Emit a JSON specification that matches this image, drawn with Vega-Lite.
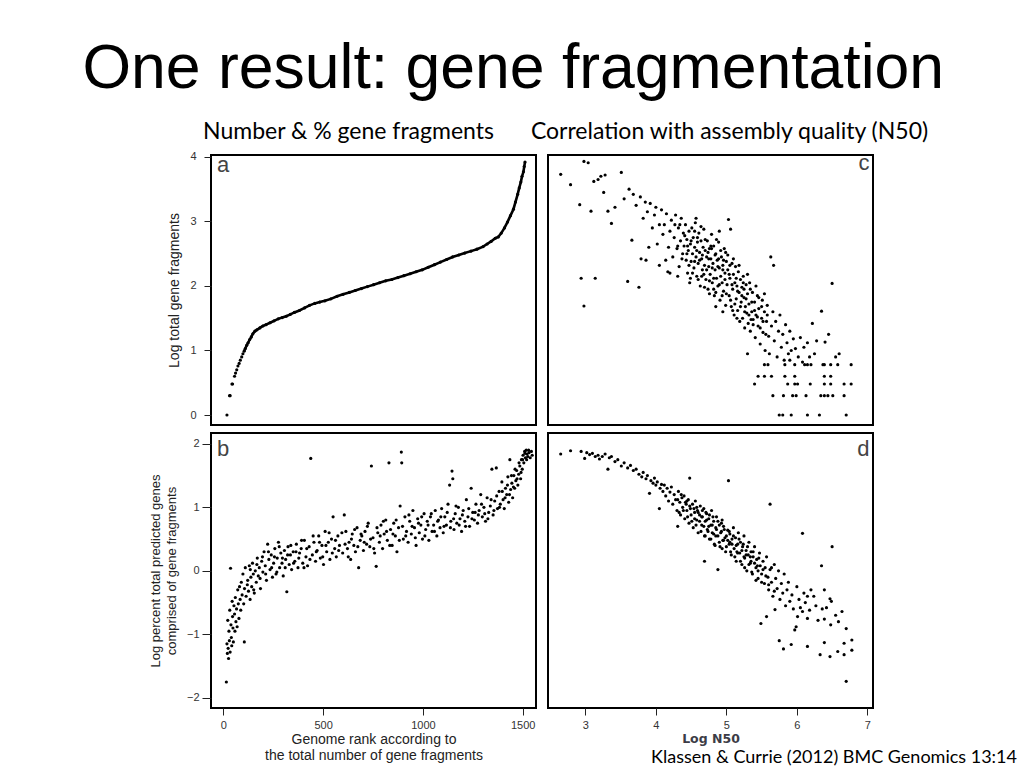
{
  "$schema": "https://vega.github.io/schema/vega-lite/v6.json",
  "background": "white",
  "padding": {"left": 82, "top": 38, "right": 0, "bottom": 0},
  "title": {"text": "One result: gene fragmentation", "font": "Liberation Sans", "fontSize": 62.5, "fontWeight": "normal", "color": "#000", "anchor": "start", "frame": "bounds", "dx": -66, "baseline": "alphabetic", "offset": -31},
  "config": {
    "view": {"stroke": "#000", "strokeWidth": 2},
    "axis": {"labelFont": "Liberation Sans", "titleFont": "Liberation Sans", "labelFontSize": 11, "labelColor": "#333", "tickColor": "#222", "grid": false, "domain": false, "titleFontWeight": "normal", "titleColor": "#222", "format": "d"}
  },
  "datasets": {
    "a": [
      {"r":18,"f":0.0},{"r":31,"f":0.3},{"r":34,"f":0.3},{"r":43,"f":0.48},{"r":46,"f":0.48},{"r":56,"f":0.6},{"r":61,"f":0.65},{"r":67,"f":0.7},{"r":73,"f":0.76},{"r":79,"f":0.8},{"r":85,"f":0.85},{"r":92,"f":0.9},{"r":98,"f":0.95},{"r":104,"f":0.99},{"r":110,"f":1.03},{"r":117,"f":1.08},{"r":124,"f":1.12},{"r":132,"f":1.17},{"r":140,"f":1.21},{"r":148,"f":1.26},{"r":158,"f":1.3},{"r":168,"f":1.32},{"r":183,"f":1.35},{"r":198,"f":1.38},{"r":214,"f":1.4},{"r":234,"f":1.43},{"r":254,"f":1.46},{"r":275,"f":1.49},{"r":295,"f":1.51},{"r":315,"f":1.53},{"r":336,"f":1.56},{"r":356,"f":1.59},{"r":381,"f":1.62},{"r":407,"f":1.66},{"r":432,"f":1.7},{"r":458,"f":1.73},{"r":483,"f":1.75},{"r":509,"f":1.77},{"r":539,"f":1.8},{"r":570,"f":1.84},{"r":600,"f":1.87},{"r":631,"f":1.9},{"r":661,"f":1.93},{"r":692,"f":1.96},{"r":722,"f":1.99},{"r":753,"f":2.02},{"r":783,"f":2.05},{"r":814,"f":2.08},{"r":844,"f":2.1},{"r":875,"f":2.13},{"r":905,"f":2.16},{"r":936,"f":2.19},{"r":966,"f":2.22},{"r":997,"f":2.25},{"r":1027,"f":2.29},{"r":1058,"f":2.33},{"r":1088,"f":2.37},{"r":1119,"f":2.41},{"r":1149,"f":2.45},{"r":1180,"f":2.48},{"r":1210,"f":2.51},{"r":1241,"f":2.54},{"r":1271,"f":2.57},{"r":1302,"f":2.61},{"r":1322,"f":2.65},{"r":1342,"f":2.69},{"r":1363,"f":2.74},{"r":1378,"f":2.76},{"r":1393,"f":2.82},{"r":1409,"f":2.9},{"r":1424,"f":2.99},{"r":1439,"f":3.09},{"r":1454,"f":3.19},{"r":1464,"f":3.3},{"r":1475,"f":3.42},{"r":1483,"f":3.52},{"r":1491,"f":3.61},{"r":1497,"f":3.7},{"r":1504,"f":3.77},{"r":1508,"f":3.85},{"r":1512,"f":3.92}
    ],
    "b": [
      {"r":15,"p":-1.75},{"r":18,"p":-1.15},{"r":20,"p":-1.3},{"r":22,"p":-0.78},{"r":24,"p":-1.22},{"r":26,"p":-1.38},{"r":28,"p":-0.95},{"r":30,"p":-1.1},{"r":32,"p":-0.62},{"r":34,"p":-1.28},{"r":36,"p":0.04},{"r":38,"p":-0.85},{"r":40,"p":-1.05},{"r":42,"p":-1.18},{"r":44,"p":-0.48},{"r":46,"p":-0.72},{"r":48,"p":-0.9},{"r":50,"p":-1.12},{"r":53,"p":-0.55},{"r":56,"p":-0.68},{"r":58,"p":-0.95},{"r":60,"p":-0.42},{"r":63,"p":-0.8},{"r":66,"p":-0.6},{"r":69,"p":-0.88},{"r":72,"p":-0.3},{"r":75,"p":-0.52},{"r":78,"p":-0.75},{"r":81,"p":-0.25},{"r":84,"p":-0.45},{"r":87,"p":-0.62},{"r":90,"p":-0.18},{"r":94,"p":-0.38},{"r":98,"p":-0.05},{"r":102,"p":-0.52},{"r":105,"p":-1.12},{"r":106,"p":-0.28},{"r":110,"p":0.05},{"r":114,"p":-0.4},{"r":122,"p":-0.15},{"r":126,"p":-0.32},{"r":130,"p":0.08},{"r":134,"p":-0.45},{"r":138,"p":-0.1},{"r":142,"p":-0.25},{"r":146,"p":0.12},{"r":150,"p":-0.05},{"r":155,"p":-0.35},{"r":160,"p":0.0},{"r":165,"p":-0.18},{"r":170,"p":0.2},{"r":175,"p":-0.08},{"r":180,"p":0.05},{"r":186,"p":-0.28},{"r":192,"p":0.15},{"r":198,"p":-0.02},{"r":204,"p":0.3},{"r":210,"p":0.08},{"r":216,"p":-0.15},{"r":222,"p":0.42},{"r":228,"p":0.18},{"r":234,"p":0.02},{"r":240,"p":0.25},{"r":246,"p":-0.1},{"r":252,"p":0.12},{"r":258,"p":0.35},{"r":264,"p":-0.05},{"r":270,"p":0.2},{"r":276,"p":0.45},{"r":282,"p":0.05},{"r":288,"p":0.28},{"r":294,"p":0.12},{"r":300,"p":-0.08},{"r":306,"p":0.32},{"r":312,"p":0.18},{"r":318,"p":-0.33},{"r":324,"p":0.38},{"r":330,"p":0.1},{"r":336,"p":0.25},{"r":342,"p":0.02},{"r":350,"p":0.3},{"r":358,"p":0.15},{"r":366,"p":0.42},{"r":374,"p":0.05},{"r":382,"p":0.28},{"r":390,"p":0.35},{"r":398,"p":0.12},{"r":406,"p":0.48},{"r":414,"p":0.22},{"r":422,"p":0.08},{"r":430,"p":0.38},{"r":438,"p":1.77},{"r":446,"p":0.25},{"r":454,"p":0.45},{"r":462,"p":0.15},{"r":470,"p":0.32},{"r":478,"p":0.55},{"r":486,"p":0.2},{"r":494,"p":0.4},{"r":502,"p":0.1},{"r":510,"p":0.62},{"r":518,"p":0.3},{"r":526,"p":0.45},{"r":534,"p":0.18},{"r":542,"p":0.5},{"r":550,"p":0.85},{"r":558,"p":0.35},{"r":566,"p":0.22},{"r":574,"p":0.55},{"r":582,"p":0.4},{"r":598,"p":0.28},{"r":606,"p":0.88},{"r":614,"p":0.62},{"r":622,"p":0.35},{"r":630,"p":0.45},{"r":638,"p":0.18},{"r":646,"p":0.58},{"r":654,"p":0.4},{"r":662,"p":0.3},{"r":670,"p":0.68},{"r":678,"p":0.05},{"r":686,"p":0.48},{"r":694,"p":0.55},{"r":702,"p":0.32},{"r":710,"p":0.62},{"r":718,"p":0.42},{"r":726,"p":0.75},{"r":734,"p":0.38},{"r":742,"p":1.65},{"r":750,"p":0.52},{"r":758,"p":0.28},{"r":766,"p":0.07},{"r":774,"p":0.6},{"r":782,"p":0.45},{"r":790,"p":0.72},{"r":798,"p":0.35},{"r":806,"p":0.58},{"r":814,"p":0.8},{"r":822,"p":0.48},{"r":830,"p":1.7},{"r":838,"p":0.65},{"r":846,"p":0.4},{"r":854,"p":0.75},{"r":862,"p":0.55},{"r":870,"p":0.3},{"r":878,"p":0.68},{"r":886,"p":1.02},{"r":892,"p":1.87},{"r":894,"p":1.7},{"r":902,"p":0.5},{"r":910,"p":0.85},{"r":918,"p":0.62},{"r":926,"p":0.45},{"r":934,"p":0.78},{"r":942,"p":0.58},{"r":950,"p":0.95},{"r":958,"p":0.68},{"r":966,"p":0.4},{"r":974,"p":0.82},{"r":982,"p":0.6},{"r":990,"p":0.72},{"r":998,"p":0.5},{"r":1006,"p":0.9},{"r":1014,"p":0.65},{"r":1022,"p":0.78},{"r":1030,"p":0.48},{"r":1038,"p":0.85},{"r":1046,"p":0.62},{"r":1054,"p":0.72},{"r":1062,"p":0.95},{"r":1070,"p":0.55},{"r":1078,"p":0.8},{"r":1086,"p":0.68},{"r":1094,"p":0.98},{"r":1102,"p":0.6},{"r":1110,"p":0.85},{"r":1118,"p":0.72},{"r":1126,"p":1.05},{"r":1134,"p":1.35},{"r":1140,"p":0.78},{"r":1146,"p":1.57},{"r":1150,"p":1.45},{"r":1156,"p":0.65},{"r":1162,"p":0.9},{"r":1170,"p":0.75},{"r":1178,"p":1.0},{"r":1186,"p":0.82},{"r":1194,"p":0.62},{"r":1202,"p":0.95},{"r":1210,"p":0.78},{"r":1218,"p":1.12},{"r":1226,"p":0.85},{"r":1234,"p":0.7},{"r":1242,"p":1.3},{"r":1250,"p":0.92},{"r":1258,"p":0.8},{"r":1266,"p":1.05},{"r":1274,"p":0.75},{"r":1282,"p":0.95},{"r":1290,"p":1.2},{"r":1298,"p":0.85},{"r":1306,"p":1.0},{"r":1314,"p":0.78},{"r":1322,"p":1.15},{"r":1330,"p":0.92},{"r":1338,"p":1.02},{"r":1346,"p":1.6},{"r":1352,"p":0.88},{"r":1360,"p":1.1},{"r":1368,"p":1.62},{"r":1374,"p":0.98},{"r":1382,"p":1.25},{"r":1388,"p":1.05},{"r":1396,"p":1.4},{"r":1402,"p":1.12},{"r":1408,"p":0.98},{"r":1414,"p":1.3},{"r":1420,"p":1.2},{"r":1426,"p":1.48},{"r":1430,"p":1.08},{"r":1436,"p":1.75},{"r":1440,"p":1.28},{"r":1446,"p":1.38},{"r":1450,"p":1.15},{"r":1456,"p":1.5},{"r":1460,"p":1.3},{"r":1466,"p":1.42},{"r":1470,"p":1.58},{"r":1476,"p":1.35},{"r":1480,"p":1.52},{"r":1486,"p":1.65},{"r":1490,"p":1.45},{"r":1494,"p":1.75},{"r":1498,"p":1.6},{"r":1502,"p":1.82},{"r":1506,"p":1.7},{"r":1510,"p":1.88},{"r":1514,"p":1.78},{"r":1518,"p":1.9},{"r":1522,"p":1.84},{"r":1526,"p":1.8},{"r":1532,"p":1.86},{"r":1538,"p":1.78},{"r":1544,"p":1.88},{"r":1548,"p":1.82},
      {"r":120,"p":-0.22},{"r":135,"p":0.02},{"r":152,"p":-0.3},{"r":168,"p":0.1},{"r":184,"p":-0.12},{"r":196,"p":0.22},{"r":212,"p":-0.05},{"r":226,"p":0.3},{"r":242,"p":0.05},{"r":256,"p":0.22},{"r":268,"p":-0.02},{"r":280,"p":0.38},{"r":296,"p":0.2},{"r":310,"p":0.05},{"r":322,"p":0.25},{"r":338,"p":0.4},{"r":352,"p":0.12},{"r":364,"p":0.3},{"r":378,"p":0.2},{"r":392,"p":0.48},{"r":404,"p":0.05},{"r":418,"p":0.35},{"r":434,"p":0.18},{"r":450,"p":0.55},{"r":466,"p":0.3},{"r":482,"p":0.45},{"r":498,"p":0.22},{"r":514,"p":0.4},{"r":530,"p":0.6},{"r":546,"p":0.28},{"r":562,"p":0.48},{"r":578,"p":0.32},{"r":594,"p":0.6},{"r":610,"p":0.42},{"r":626,"p":0.22},{"r":642,"p":0.5},{"r":658,"p":0.65},{"r":674,"p":0.38},{"r":690,"p":0.58},{"r":706,"p":0.45},{"r":722,"p":0.7},{"r":738,"p":0.5},{"r":754,"p":0.35},{"r":770,"p":0.68},{"r":786,"p":0.55},{"r":802,"p":0.78},{"r":818,"p":0.62},{"r":834,"p":0.4},{"r":850,"p":0.58},{"r":866,"p":0.8},{"r":882,"p":0.48},{"r":898,"p":0.7},{"r":914,"p":0.55},{"r":930,"p":0.88},{"r":946,"p":0.7},{"r":962,"p":0.52},{"r":978,"p":0.75},{"r":994,"p":0.85},{"r":1010,"p":0.55},{"r":1026,"p":0.72},{"r":1042,"p":0.9},{"r":1058,"p":0.62},{"r":1074,"p":0.78},{"r":1090,"p":0.85},{"r":1106,"p":0.7},{"r":1122,"p":0.92},{"r":1138,"p":0.68},{"r":1154,"p":0.82},{"r":1166,"p":1.02},{"r":1182,"p":0.72},{"r":1198,"p":0.88},{"r":1214,"p":0.7},{"r":1230,"p":0.98},{"r":1246,"p":0.82},{"r":1262,"p":0.92},{"r":1278,"p":0.88},{"r":1294,"p":1.05},{"r":1310,"p":0.9},{"r":1326,"p":0.82},{"r":1342,"p":1.12},{"r":1356,"p":0.95},{"r":1370,"p":1.18},{"r":1384,"p":1.0},{"r":1398,"p":1.25},{"r":1412,"p":1.15},{"r":1424,"p":1.35},{"r":1434,"p":1.2},{"r":1444,"p":1.5},{"r":1454,"p":1.32},{"r":1462,"p":1.6},{"r":1472,"p":1.45},{"r":1482,"p":1.7},{"r":1492,"p":1.55},{"r":1500,"p":1.75},{"r":1512,"p":1.85},{"r":1520,"p":1.75},{"r":1530,"p":1.9}
    ],
    "c": [
      {"n":2.65,"f":3.73},{"n":2.79,"f":3.57},{"n":2.92,"f":3.26},{"n":2.94,"f":2.12},{"n":2.98,"f":1.69},{"n":2.98,"f":3.93},{"n":3.04,"f":3.91},{"n":3.08,"f":3.16},{"n":3.14,"f":2.12},{"n":3.12,"f":3.62},{"n":3.18,"f":3.65},{"n":3.22,"f":3.7},{"n":3.28,"f":3.72},{"n":3.32,"f":3.16},{"n":3.26,"f":3.45},{"n":3.37,"f":2.97},{"n":3.42,"f":3.22},{"n":3.51,"f":3.76},{"n":3.55,"f":3.35},{"n":3.6,"f":2.07},{"n":3.62,"f":3.5},{"n":3.66,"f":2.71},{"n":3.68,"f":3.42},{"n":3.72,"f":3.25},{"n":3.76,"f":1.98},{"n":3.78,"f":3.38},{"n":3.79,"f":2.42},{"n":3.82,"f":3.05},{"n":3.85,"f":3.3},{"n":3.86,"f":2.4},{"n":3.88,"f":3.15},{"n":3.9,"f":2.6},{"n":3.92,"f":3.28},{"n":3.95,"f":2.9},{"n":3.98,"f":3.1},{"n":4.0,"f":3.22},{"n":4.02,"f":2.65},{"n":4.05,"f":2.32},{"n":4.05,"f":2.95},{"n":4.08,"f":3.18},{"n":4.1,"f":2.8},{"n":4.17,"f":2.22},
      {"n":4.12,"f":2.95},{"n":4.15,"f":3.12},{"n":4.18,"f":2.6},{"n":4.2,"f":2.85},{"n":4.22,"f":3.02},{"n":4.24,"f":2.45},{"n":4.26,"f":2.75},{"n":4.28,"f":3.1},{"n":4.3,"f":2.58},{"n":4.32,"f":2.9},{"n":4.33,"f":2.3},{"n":4.35,"f":2.7},{"n":4.36,"f":3.05},{"n":4.38,"f":2.5},{"n":4.39,"f":2.82},{"n":4.4,"f":2.62},{"n":4.2,"f":2.2},{"n":4.31,"f":2.15},{"n":4.14,"f":2.4},{"n":4.27,"f":2.95},
      {"n":4.42,"f":2.95},{"n":4.43,"f":2.4},{"n":4.44,"f":2.72},{"n":4.45,"f":2.2},{"n":4.46,"f":2.55},{"n":4.47,"f":2.85},{"n":4.48,"f":2.05},{"n":4.49,"f":2.65},{"n":4.5,"f":2.38},{"n":4.51,"f":2.9},{"n":4.52,"f":2.5},{"n":4.53,"f":2.75},{"n":4.54,"f":2.28},{"n":4.55,"f":2.6},{"n":4.56,"f":2.98},{"n":4.57,"f":2.45},{"n":4.58,"f":2.15},{"n":4.59,"f":2.68},{"n":4.6,"f":2.35},{"n":4.61,"f":2.82},{"n":4.62,"f":2.52},{"n":4.63,"f":2.0},{"n":4.64,"f":2.7},{"n":4.65,"f":2.42},{"n":4.66,"f":2.25},{"n":4.67,"f":2.6},{"n":4.68,"f":2.88},{"n":4.69,"f":2.32},{"n":4.7,"f":2.55},{"n":4.57,"f":3.05},
      {"n":4.71,"f":2.1},{"n":4.72,"f":2.45},{"n":4.73,"f":2.7},{"n":4.74,"f":1.95},{"n":4.75,"f":2.3},{"n":4.76,"f":2.58},{"n":4.77,"f":2.18},{"n":4.78,"f":2.42},{"n":4.79,"f":2.8},{"n":4.8,"f":2.05},{"n":4.81,"f":2.35},{"n":4.82,"f":2.62},{"n":4.83,"f":1.85},{"n":4.84,"f":2.25},{"n":4.85,"f":2.5},{"n":4.86,"f":2.12},{"n":4.87,"f":2.4},{"n":4.88,"f":2.0},{"n":4.89,"f":2.68},{"n":4.9,"f":2.28},{"n":4.91,"f":1.78},{"n":4.92,"f":2.15},{"n":4.93,"f":2.45},{"n":4.94,"f":2.05},{"n":4.95,"f":2.32},{"n":4.96,"f":1.92},{"n":4.97,"f":2.58},{"n":4.98,"f":2.2},{"n":4.99,"f":1.7},{"n":5.0,"f":2.38},{"n":4.76,"f":1.88},{"n":4.85,"f":1.68},{"n":4.9,"f":2.85},{"n":4.82,"f":2.12},{"n":4.95,"f":1.6},
      {"n":5.01,"f":2.02},{"n":5.02,"f":2.25},{"n":5.03,"f":3.03},{"n":5.04,"f":1.85},{"n":5.05,"f":2.12},{"n":5.06,"f":2.88},{"n":5.07,"f":1.68},{"n":5.08,"f":2.35},{"n":5.09,"f":1.95},{"n":5.1,"f":2.18},{"n":5.11,"f":1.55},{"n":5.12,"f":2.05},{"n":5.13,"f":2.3},{"n":5.14,"f":1.8},{"n":5.15,"f":2.0},{"n":5.16,"f":1.62},{"n":5.17,"f":2.22},{"n":5.18,"f":1.9},{"n":5.19,"f":1.45},{"n":5.2,"f":2.1},{"n":5.21,"f":1.75},{"n":5.22,"f":1.98},{"n":5.23,"f":1.5},{"n":5.24,"f":2.15},{"n":5.25,"f":1.82},{"n":5.26,"f":1.35},{"n":5.27,"f":1.68},{"n":5.28,"f":2.02},{"n":5.29,"f":1.58},{"n":5.3,"f":1.88},
      {"n":5.31,"f":1.42},{"n":5.32,"f":1.72},{"n":5.33,"f":2.05},{"n":5.34,"f":1.3},{"n":5.36,"f":1.6},{"n":5.37,"f":1.9},{"n":5.38,"f":1.48},{"n":5.4,"f":1.75},{"n":5.41,"f":1.2},{"n":5.42,"f":1.55},{"n":5.44,"f":1.85},{"n":5.45,"f":1.38},{"n":5.46,"f":1.65},{"n":5.48,"f":1.1},{"n":5.5,"f":1.5},{"n":5.51,"f":1.78},{"n":5.52,"f":1.28},{"n":5.54,"f":1.6},{"n":5.55,"f":1.0},{"n":5.57,"f":1.45},{"n":5.58,"f":1.7},{"n":5.6,"f":1.22},
      {"n":5.61,"f":0.95},{"n":5.63,"f":2.45},{"n":5.64,"f":1.38},{"n":5.66,"f":1.6},{"n":5.67,"f":2.32},{"n":5.68,"f":1.15},{"n":5.7,"f":1.45},{"n":5.72,"f":0.9},{"n":5.74,"f":1.3},{"n":5.76,"f":1.55},{"n":5.78,"f":1.05},{"n":5.8,"f":1.25},{"n":5.82,"f":0.85},{"n":5.84,"f":1.4},{"n":5.86,"f":1.12},{"n":5.88,"f":0.95},{"n":5.9,"f":1.3},{"n":5.92,"f":1.0},{"n":5.95,"f":1.18},{"n":5.98,"f":1.03},
      {"n":6.02,"f":0.9},{"n":6.05,"f":1.2},{"n":6.08,"f":0.82},{"n":6.1,"f":1.05},{"n":6.15,"f":1.12},{"n":6.18,"f":0.9},{"n":6.22,"f":1.42},{"n":6.28,"f":1.15},{"n":6.35,"f":1.61},{"n":6.4,"f":1.13},{"n":6.45,"f":1.25},{"n":6.5,"f":2.04},{"n":6.6,"f":0.95},
      {"n":5.75,"f":0.0},{"n":5.8,"f":0.0},{"n":5.92,"f":0.0},{"n":6.15,"f":0.0},{"n":6.32,"f":0.0},{"n":6.7,"f":0.0},
      {"n":5.66,"f":0.3},{"n":5.81,"f":0.3},{"n":5.94,"f":0.3},{"n":5.99,"f":0.3},{"n":6.13,"f":0.3},{"n":6.34,"f":0.3},{"n":6.39,"f":0.3},{"n":6.44,"f":0.3},{"n":6.51,"f":0.3},{"n":6.67,"f":0.3},
      {"n":5.4,"f":0.48},{"n":5.87,"f":0.48},{"n":5.97,"f":0.48},{"n":6.01,"f":0.48},{"n":6.19,"f":0.48},{"n":6.39,"f":0.48},{"n":6.48,"f":0.48},{"n":6.67,"f":0.48},{"n":6.77,"f":0.48},
      {"n":5.45,"f":0.6},{"n":5.54,"f":0.6},{"n":5.64,"f":0.6},{"n":5.83,"f":0.6},{"n":5.97,"f":0.6},{"n":6.39,"f":0.6},{"n":6.48,"f":0.6},
      {"n":5.54,"f":0.78},{"n":5.59,"f":0.78},{"n":5.83,"f":0.78},{"n":5.97,"f":0.78},{"n":6.11,"f":0.78},{"n":6.15,"f":0.78},{"n":6.2,"f":0.78},{"n":6.37,"f":0.78},{"n":6.39,"f":0.78},{"n":6.48,"f":0.78},{"n":6.58,"f":0.78},{"n":6.77,"f":0.78},
      {"n":5.3,"f":0.95},{"n":6.25,"f":0.95},{"n":6.55,"f":0.9},{"n":5.9,"f":0.85},
      {"n":4.31,"f":2.62},{"n":4.34,"f":2.95},{"n":4.37,"f":2.42},{"n":4.41,"f":2.78},{"n":4.44,"f":2.5},{"n":4.47,"f":2.32},{"n":4.5,"f":2.7},{"n":4.52,"f":2.2},{"n":4.55,"f":2.85},{"n":4.58,"f":2.55},{"n":4.6,"f":2.1},{"n":4.62,"f":2.4},{"n":4.64,"f":2.92},{"n":4.66,"f":2.48},{"n":4.68,"f":2.18},{"n":4.7,"f":2.72},{"n":4.72,"f":2.25},{"n":4.74,"f":2.52},{"n":4.76,"f":2.08},{"n":4.78,"f":2.62},{"n":4.8,"f":2.28},{"n":4.82,"f":1.95},{"n":4.84,"f":2.48},{"n":4.86,"f":2.72},{"n":4.88,"f":2.3},{"n":4.9,"f":2.02},{"n":4.92,"f":2.55},{"n":4.94,"f":1.85},{"n":4.96,"f":2.4},{"n":4.98,"f":2.1},{"n":5.0,"f":1.88},{"n":5.02,"f":2.48},{"n":5.04,"f":2.18},{"n":5.06,"f":1.78},{"n":5.08,"f":2.02},{"n":5.1,"f":2.42},{"n":5.12,"f":1.72},{"n":5.14,"f":2.12},{"n":5.16,"f":1.92},{"n":5.18,"f":2.32},{"n":5.2,"f":1.68},{"n":5.22,"f":1.85},{"n":5.24,"f":2.05},{"n":5.26,"f":1.6},{"n":5.28,"f":1.8},{"n":5.3,"f":2.18},{"n":5.32,"f":1.55},{"n":5.34,"f":1.95},{"n":5.36,"f":1.75},{"n":5.38,"f":1.4},{"n":5.4,"f":1.62},{"n":5.42,"f":2.0},{"n":5.44,"f":1.52},{"n":5.46,"f":1.82},{"n":5.48,"f":1.35},{"n":5.5,"f":1.68},{"n":5.52,"f":1.45},{"n":5.54,"f":1.88},{"n":5.56,"f":1.25},{"n":5.58,"f":1.55},{"n":4.45,"f":2.62},{"n":4.55,"f":2.38},{"n":4.65,"f":2.15},{"n":4.75,"f":2.42},{"n":4.85,"f":1.9},{"n":4.95,"f":2.25},{"n":5.05,"f":2.32},{"n":5.15,"f":1.5},{"n":5.25,"f":1.95},{"n":5.35,"f":1.48},{"n":4.79,"f":2.58},{"n":4.89,"f":2.42},{"n":4.99,"f":2.52},{"n":5.09,"f":1.62},{"n":4.69,"f":1.98},{"n":4.59,"f":2.75},{"n":4.49,"f":2.12}
    ],
    "d": [
      {"n":2.65,"p":1.84},{"n":2.79,"p":1.89},{"n":2.94,"p":1.88},{"n":2.99,"p":1.77},{"n":3.02,"p":1.86},{"n":3.06,"p":1.83},{"n":3.1,"p":1.85},{"n":3.14,"p":1.8},{"n":3.18,"p":1.82},{"n":3.2,"p":1.76},{"n":3.24,"p":1.8},{"n":3.28,"p":1.84},{"n":3.32,"p":1.6},{"n":3.34,"p":1.78},{"n":3.37,"p":1.8},{"n":3.42,"p":1.72},{"n":3.46,"p":1.75},{"n":3.51,"p":1.65},{"n":3.55,"p":1.7},{"n":3.6,"p":1.62},{"n":3.64,"p":1.66},{"n":3.68,"p":1.58},{"n":3.72,"p":1.6},{"n":3.76,"p":1.52},{"n":3.8,"p":1.48},{"n":3.82,"p":1.55},{"n":3.86,"p":1.45},{"n":3.88,"p":1.5},{"n":3.91,"p":1.22},{"n":3.93,"p":1.42},{"n":3.96,"p":1.38},{"n":3.98,"p":1.46},{"n":4.0,"p":1.35},{"n":4.02,"p":1.4},{"n":4.05,"p":0.98},{"n":4.06,"p":1.3},{"n":4.08,"p":1.36},{"n":4.1,"p":1.25},{"n":4.12,"p":1.35},{"n":4.14,"p":1.18},{"n":4.16,"p":1.3},{"n":4.18,"p":1.1},{"n":4.2,"p":1.24},
      {"n":4.22,"p":1.32},{"n":4.24,"p":1.05},{"n":4.26,"p":1.2},{"n":4.28,"p":1.12},{"n":4.3,"p":0.95},{"n":4.31,"p":0.7},{"n":4.32,"p":1.25},{"n":4.34,"p":1.08},{"n":4.35,"p":0.88},{"n":4.37,"p":1.15},{"n":4.38,"p":1.0},{"n":4.4,"p":1.18},{"n":4.41,"p":0.82},{"n":4.43,"p":1.05},{"n":4.44,"p":0.95},{"n":4.46,"p":1.12},{"n":4.47,"p":0.75},{"n":4.48,"p":1.46},{"n":4.49,"p":0.98},{"n":4.5,"p":0.88},{"n":4.52,"p":1.05},{"n":4.53,"p":0.68},{"n":4.55,"p":0.92},{"n":4.56,"p":1.1},{"n":4.58,"p":0.8},{"n":4.59,"p":0.95},{"n":4.6,"p":0.6},{"n":4.62,"p":0.88},{"n":4.63,"p":1.02},{"n":4.65,"p":0.72},{"n":4.66,"p":0.85},{"n":4.68,"p":0.98},{"n":4.69,"p":0.55},{"n":4.69,"p":0.15},{"n":4.7,"p":0.78},{"n":4.72,"p":0.9},{"n":4.73,"p":0.65},{"n":4.75,"p":0.82},{"n":4.76,"p":0.5},{"n":4.78,"p":0.72},{"n":4.79,"p":0.95},{"n":4.8,"p":0.6},{"n":4.82,"p":0.78},{"n":4.83,"p":0.42},{"n":4.85,"p":0.68},{"n":4.86,"p":0.85},{"n":4.88,"p":0.02},{"n":4.88,"p":0.55},{"n":4.9,"p":0.72},{"n":4.91,"p":0.38},{"n":4.93,"p":0.62},{"n":4.94,"p":0.8},{"n":4.96,"p":0.48},{"n":4.97,"p":0.65},{"n":4.99,"p":0.3},{"n":5.0,"p":0.55},{"n":5.02,"p":0.64},{"n":5.03,"p":1.42},{"n":5.04,"p":0.42},{"n":5.05,"p":0.58},{"n":5.07,"p":0.25},{"n":5.08,"p":0.5},{"n":5.1,"p":0.68},{"n":5.11,"p":0.35},{"n":5.13,"p":0.52},{"n":5.14,"p":0.15},{"n":5.16,"p":0.42},{"n":5.17,"p":0.6},{"n":5.19,"p":0.28},{"n":5.2,"p":0.45},{"n":5.22,"p":0.1},{"n":5.23,"p":0.38},{"n":5.25,"p":0.55},{"n":5.26,"p":0.2},{"n":5.28,"p":0.32},{"n":5.29,"p":0.0},{"n":5.31,"p":0.25},{"n":5.32,"p":0.45},{"n":5.34,"p":0.12},{"n":5.35,"p":0.3},{"n":5.37,"p":-0.05},{"n":5.38,"p":0.22},{"n":5.4,"p":0.38},{"n":5.42,"p":0.05},{"n":5.43,"p":0.18},{"n":5.45,"p":-0.12},{"n":5.47,"p":0.28},{"n":5.48,"p":0.08},{"n":5.49,"p":-0.83},{"n":5.5,"p":-0.05},{"n":5.52,"p":0.15},{"n":5.54,"p":-0.2},{"n":5.55,"p":0.05},{"n":5.57,"p":-0.72},{"n":5.57,"p":0.22},{"n":5.59,"p":-0.1},{"n":5.6,"p":-0.3},{"n":5.62,"p":1.05},{"n":5.62,"p":0.02},{"n":5.64,"p":-0.18},{"n":5.66,"p":-0.4},{"n":5.68,"p":0.1},{"n":5.69,"p":-0.61},{"n":5.7,"p":-0.12},{"n":5.72,"p":-0.28},{"n":5.74,"p":0.0},{"n":5.75,"p":-1.1},{"n":5.76,"p":-0.45},{"n":5.78,"p":-0.2},{"n":5.8,"p":-0.35},{"n":5.81,"p":-1.23},{"n":5.82,"p":-0.05},{"n":5.84,"p":-0.55},{"n":5.86,"p":-0.3},{"n":5.88,"p":-0.18},{"n":5.9,"p":-0.48},{"n":5.92,"p":-1.16},{"n":5.93,"p":-0.38},{"n":5.95,"p":-0.6},{"n":5.97,"p":-0.93},{"n":5.99,"p":-0.88},{"n":6.0,"p":-0.25},{"n":6.01,"p":-0.72},{"n":6.03,"p":-0.45},{"n":6.05,"p":-0.58},{"n":6.08,"p":0.59},{"n":6.08,"p":-0.64},{"n":6.1,"p":-0.35},{"n":6.12,"p":-0.5},{"n":6.15,"p":-0.4},{"n":6.15,"p":-0.75},{"n":6.15,"p":-1.19},{"n":6.18,"p":-0.62},{"n":6.2,"p":-0.3},{"n":6.24,"p":-0.4},{"n":6.27,"p":-0.55},{"n":6.3,"p":-0.78},{"n":6.33,"p":-1.32},{"n":6.35,"p":0.08},{"n":6.36,"p":-0.6},{"n":6.39,"p":-0.3},{"n":6.39,"p":-0.76},{"n":6.39,"p":-1.13},{"n":6.42,"p":-0.58},{"n":6.47,"p":-0.44},{"n":6.47,"p":-1.35},{"n":6.48,"p":-0.85},{"n":6.49,"p":-0.48},{"n":6.5,"p":0.38},{"n":6.55,"p":-0.7},{"n":6.58,"p":-1.27},{"n":6.59,"p":-0.8},{"n":6.64,"p":-0.64},{"n":6.67,"p":-1.14},{"n":6.67,"p":-1.32},{"n":6.7,"p":-0.91},{"n":6.7,"p":-1.74},{"n":6.78,"p":-1.09},{"n":6.78,"p":-1.25},
      {"n":4.31,"p":1.12},{"n":4.33,"p":0.92},{"n":4.36,"p":1.2},{"n":4.39,"p":0.95},{"n":4.42,"p":1.08},{"n":4.45,"p":0.85},{"n":4.48,"p":1.02},{"n":4.51,"p":0.78},{"n":4.54,"p":0.98},{"n":4.57,"p":0.72},{"n":4.6,"p":0.92},{"n":4.62,"p":0.78},{"n":4.64,"p":0.62},{"n":4.66,"p":0.95},{"n":4.68,"p":0.7},{"n":4.7,"p":0.55},{"n":4.72,"p":0.8},{"n":4.74,"p":0.62},{"n":4.76,"p":0.88},{"n":4.78,"p":0.5},{"n":4.8,"p":0.72},{"n":4.82,"p":0.58},{"n":4.84,"p":0.4},{"n":4.86,"p":0.65},{"n":4.88,"p":0.78},{"n":4.9,"p":0.45},{"n":4.92,"p":0.6},{"n":4.94,"p":0.35},{"n":4.96,"p":0.7},{"n":4.98,"p":0.52},{"n":5.0,"p":0.38},{"n":5.02,"p":0.48},{"n":5.04,"p":0.62},{"n":5.06,"p":0.3},{"n":5.08,"p":0.42},{"n":5.1,"p":0.55},{"n":5.12,"p":0.22},{"n":5.14,"p":0.4},{"n":5.16,"p":0.28},{"n":5.18,"p":0.5},{"n":5.2,"p":0.15},{"n":5.22,"p":0.32},{"n":5.24,"p":0.42},{"n":5.26,"p":0.05},{"n":5.28,"p":0.25},{"n":5.3,"p":0.38},{"n":5.32,"p":0.1},{"n":5.34,"p":0.22},{"n":5.36,"p":-0.02},{"n":5.38,"p":0.3},{"n":5.4,"p":0.12},{"n":5.42,"p":-0.15},{"n":5.44,"p":0.08},{"n":5.46,"p":0.2},{"n":5.5,"p":-0.18},{"n":5.52,"p":0.02},{"n":5.56,"p":-0.08},{"n":5.6,"p":-0.22},{"n":5.64,"p":0.05},{"n":5.68,"p":-0.32},{"n":4.55,"p":0.82},{"n":4.65,"p":0.85},{"n":4.75,"p":0.7},{"n":4.85,"p":0.55},{"n":4.95,"p":0.48},{"n":5.05,"p":0.45},{"n":5.15,"p":0.3},{"n":5.25,"p":0.22},{"n":5.35,"p":0.15},{"n":5.45,"p":0.0},{"n":4.44,"p":1.1},{"n":4.58,"p":1.0},{"n":4.71,"p":0.92},{"n":4.81,"p":0.85},{"n":4.93,"p":0.75}
    ]
  },
  "columns": 2,
  "bounds": "flush",
  "spacing": {"row": 8, "column": 12},
  "concat": [
    {
      "width": 325, "height": 270,
      "title": {"text": "Number & % gene fragments", "font": "Lato", "fontSize": 23, "fontWeight": "normal", "color": "#000", "frame": "group", "anchor": "middle", "dx": -25, "baseline": "alphabetic", "offset": -11},
      "layer": [
        {"data": {"name": "a"}, "transform": [{"filter": "datum.r >= 100"}], "mark": {"type": "line", "color": "#000", "strokeWidth": 2.6},
         "encoding": {"x": {"field": "r", "type": "quantitative", "scale": {"domain": [-62, 1567], "nice": false, "zero": false}, "axis": null},
                      "y": {"field": "f", "type": "quantitative", "scale": {"domain": [-0.155, 4.03], "nice": false, "zero": false}, "axis": {"title": "Log total gene fragments", "values": [0,1,2,3,4], "tickSize": 7, "labelPadding": 8, "titlePadding": 8, "titleFontSize": 14}}}},
        {"data": {"name": "a"}, "mark": {"type": "point", "filled": true, "size": 10, "color": "#000", "opacity": 1},
         "encoding": {"x": {"field": "r", "type": "quantitative"}, "y": {"field": "f", "type": "quantitative"}}},
        {"data": {"values": [{"r": -32, "f": 3.77, "t": "a"}]}, "mark": {"type": "text", "align": "left", "baseline": "alphabetic", "fontSize": 22, "font": "Liberation Sans", "color": "#444"},
         "encoding": {"x": {"field": "r", "type": "quantitative"}, "y": {"field": "f", "type": "quantitative"}, "text": {"field": "t"}}}
      ]
    },
    {
      "width": 325, "height": 270,
      "title": {"text": "Correlation with assembly quality (N50)", "font": "Lato", "fontSize": 23, "fontWeight": "normal", "color": "#000", "frame": "group", "anchor": "middle", "dx": 19, "baseline": "alphabetic", "offset": -10},
      "layer": [
        {"data": {"name": "c"}, "mark": {"type": "point", "filled": true, "size": 10, "color": "#000", "opacity": 1},
         "encoding": {"x": {"field": "n", "type": "quantitative", "scale": {"domain": [2.47, 7.08], "nice": false, "zero": false}, "axis": null},
                      "y": {"field": "f", "type": "quantitative", "scale": {"domain": [-0.155, 4.03], "nice": false, "zero": false}, "axis": null}}},
        {"data": {"values": [{"n": 7.03, "f": 3.79, "t": "c"}]}, "mark": {"type": "text", "align": "right", "baseline": "alphabetic", "fontSize": 22, "font": "Liberation Sans", "color": "#444"},
         "encoding": {"x": {"field": "n", "type": "quantitative"}, "y": {"field": "f", "type": "quantitative"}, "text": {"field": "t"}}}
      ]
    },
    {
      "width": 325, "height": 275,
      "layer": [
        {"data": {"name": "b"}, "mark": {"type": "point", "filled": true, "size": 10, "color": "#000", "opacity": 1},
         "encoding": {"x": {"field": "r", "type": "quantitative", "scale": {"domain": [-62, 1567], "nice": false, "zero": false}, "axis": {"title": ["Genome rank according to", "the total number of gene fragments"], "values": [0, 500, 1000, 1500], "tickSize": 7, "labelPadding": 4, "titlePadding": 2, "titleFontSize": 14, "titleLineHeight": 16.7}},
                      "y": {"field": "p", "type": "quantitative", "scale": {"domain": [-2.16, 2.17], "nice": false, "zero": false}, "axis": {"title": ["Log percent total predicted genes", "comprised of gene fragments"], "values": [-2,-1,0,1,2], "tickSize": 9, "labelPadding": 3, "titlePadding": 8, "titleFontSize": 13, "titleLineHeight": 16}}}},
        {"data": {"values": [{"r": -32, "p": 1.81, "t": "b"}]}, "mark": {"type": "text", "align": "left", "baseline": "alphabetic", "fontSize": 22, "font": "Liberation Sans", "color": "#444"},
         "encoding": {"x": {"field": "r", "type": "quantitative"}, "y": {"field": "p", "type": "quantitative"}, "text": {"field": "t"}}}
      ]
    },
    {
      "width": 325, "height": 275,
      "title": {"text": "Klassen & Currie (2012) BMC Genomics 13:14", "orient": "bottom", "anchor": "end", "frame": "group", "dx": 144, "font": "Lato", "fontSize": 18, "fontWeight": "normal", "color": "#000", "baseline": "alphabetic", "offset": 18},
      "layer": [
        {"data": {"name": "d"}, "mark": {"type": "point", "filled": true, "size": 10, "color": "#000", "opacity": 1},
         "encoding": {"x": {"field": "n", "type": "quantitative", "scale": {"domain": [2.47, 7.08], "nice": false, "zero": false}, "axis": {"title": "Log N50", "values": [3,4,5,6,7], "tickSize": 7, "labelPadding": 4, "titlePadding": 2, "titleFont": "DejaVu Sans", "titleFontWeight": "bold", "titleFontSize": 12.5, "titleColor": "#3c3c46"}},
                      "y": {"field": "p", "type": "quantitative", "scale": {"domain": [-2.16, 2.17], "nice": false, "zero": false}, "axis": null}}},
        {"data": {"values": [{"n": 7.03, "p": 1.8, "t": "d"}]}, "mark": {"type": "text", "align": "right", "baseline": "alphabetic", "fontSize": 22, "font": "Liberation Sans", "color": "#444"},
         "encoding": {"x": {"field": "n", "type": "quantitative"}, "y": {"field": "p", "type": "quantitative"}, "text": {"field": "t"}}}
      ]
    }
  ]
}
